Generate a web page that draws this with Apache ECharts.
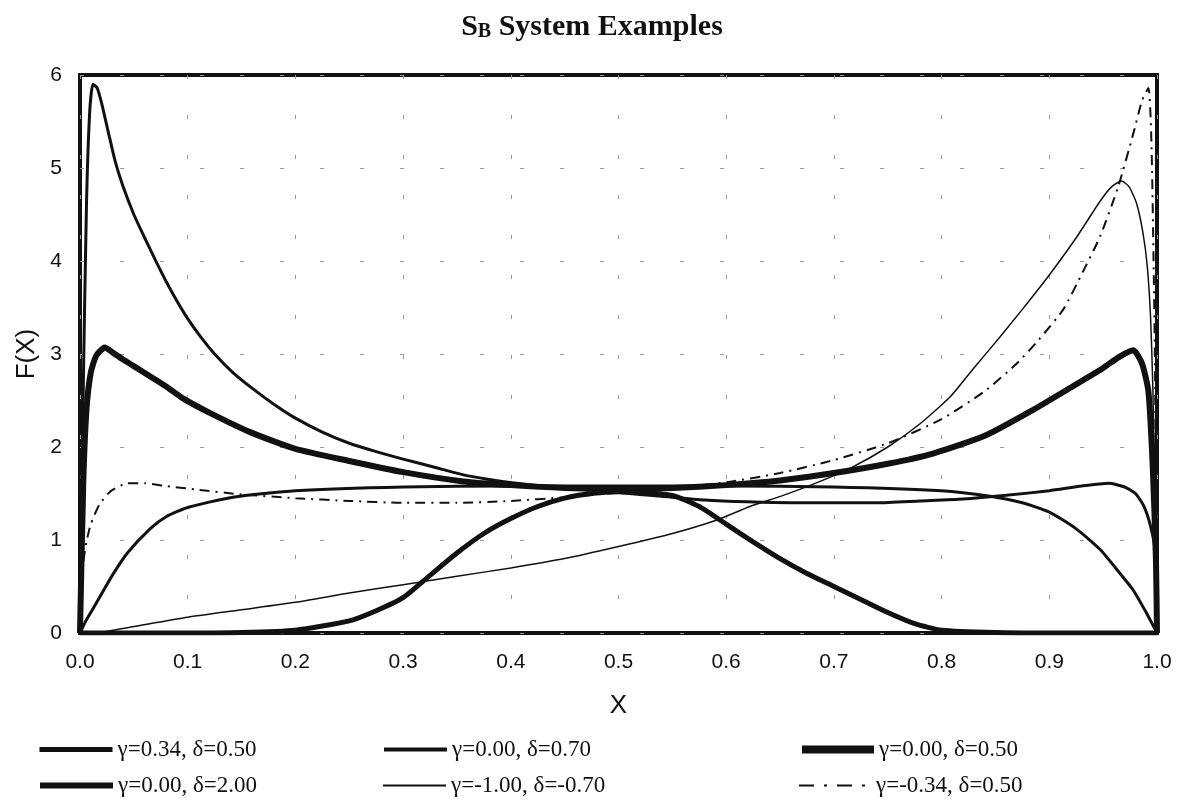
<!DOCTYPE html>
<html><head><meta charset="utf-8">
<script src="https://cdn.jsdelivr.net/npm/echarts@6/dist/echarts.min.js"></script>
<style>html,body{margin:0;padding:0;background:#fff}#chart{width:1184px;height:808px}</style>
</head><body><div id="chart"></div>
<script>
// Legend labels (series names)
const seriesNames = ['γ=0.34, δ=0.50', 'γ=0.00, δ=0.70', 'γ=0.00, δ=0.50', 'γ=0.00, δ=2.00', 'γ=-1.00, δ=-0.70', 'γ=-0.34, δ=0.50'];

// Curve values: [x, F(x)]
const curveG034D050 = [[0,0],[0.003,2.6],[0.006,4.6],[0.009,5.6],[0.012,5.9],[0.016,5.86],[0.02,5.7],[0.026,5.4],[0.0325,5.08],[0.04,4.8],[0.05,4.5],[0.06,4.25],[0.07,4.01],[0.08,3.78],[0.09,3.57],[0.1,3.38],[0.111,3.2],[0.125,3.0],[0.142,2.8],[0.16,2.63],[0.18,2.46],[0.2,2.31],[0.225,2.16],[0.25,2.04],[0.275,1.95],[0.3,1.87],[0.33,1.78],[0.356,1.70],[0.38,1.65],[0.405,1.61],[0.43,1.58],[0.46,1.55],[0.5,1.51],[0.54,1.47],[0.58,1.43],[0.62,1.41],[0.66,1.40],[0.7,1.40],[0.74,1.40],[0.78,1.42],[0.82,1.44],[0.86,1.48],[0.9,1.53],[0.93,1.58],[0.955,1.61],[0.97,1.57],[0.98,1.5],[0.988,1.36],[0.994,1.15],[0.998,0.9],[1,0]];
const curveG000D070 = [[0,0],[0.005,0.12],[0.01,0.22],[0.019,0.4],[0.03,0.62],[0.044,0.86],[0.065,1.12],[0.08,1.25],[0.1,1.35],[0.142,1.46],[0.2,1.53],[0.3,1.57],[0.4,1.58],[0.5,1.58],[0.6,1.58],[0.7,1.57],[0.8,1.53],[0.845,1.47],[0.875,1.4],[0.9,1.3],[0.925,1.12],[0.947,0.9],[0.965,0.65],[0.978,0.46],[0.99,0.22],[0.995,0.11],[1,0]];
const curveG000D050 = [[0,0],[0.003,1.6],[0.006,2.4],[0.01,2.8],[0.015,2.98],[0.023,3.07],[0.03,3.02],[0.04,2.94],[0.05,2.87],[0.065,2.76],[0.08,2.65],[0.096,2.52],[0.12,2.37],[0.158,2.16],[0.2,1.98],[0.25,1.85],[0.3,1.73],[0.356,1.63],[0.4,1.59],[0.45,1.56],[0.5,1.55],[0.55,1.56],[0.6,1.59],[0.65,1.64],[0.7,1.72],[0.75,1.82],[0.792,1.93],[0.84,2.12],[0.885,2.4],[0.92,2.64],[0.95,2.85],[0.965,2.97],[0.978,3.04],[0.986,2.9],[0.992,2.6],[0.996,1.8],[0.999,0.8],[1,0]];
const curveG000D200 = [[0,0],[0.1,0],[0.15,0.005],[0.2,0.03],[0.25,0.13],[0.275,0.24],[0.3,0.38],[0.325,0.62],[0.35,0.86],[0.375,1.07],[0.4,1.23],[0.425,1.36],[0.45,1.45],[0.475,1.5],[0.5,1.52],[0.525,1.51],[0.55,1.48],[0.575,1.36],[0.6,1.17],[0.625,0.98],[0.65,0.8],[0.675,0.64],[0.7,0.5],[0.725,0.36],[0.75,0.22],[0.775,0.1],[0.8,0.03],[0.85,0.005],[0.9,0],[1,0]];
const curveGm100Dm070 = [[0,0],[0.02,0.01],[0.05,0.07],[0.1,0.17],[0.15,0.25],[0.2,0.33],[0.25,0.43],[0.3,0.52],[0.35,0.61],[0.4,0.7],[0.45,0.8],[0.5,0.93],[0.55,1.07],[0.59,1.21],[0.622,1.36],[0.653,1.48],[0.685,1.62],[0.715,1.77],[0.75,2.0],[0.78,2.25],[0.808,2.54],[0.83,2.85],[0.854,3.18],[0.875,3.48],[0.9,3.85],[0.925,4.25],[0.947,4.64],[0.958,4.8],[0.967,4.86],[0.974,4.8],[0.981,4.62],[0.987,4.3],[0.991,3.94],[0.994,3.4],[0.996,2.7],[0.998,1.6],[1,0]];
const curveGm034D050 = [[0,0],[0.003,0.75],[0.006,0.98],[0.01,1.17],[0.018,1.38],[0.028,1.52],[0.044,1.61],[0.06,1.61],[0.08,1.58],[0.11,1.54],[0.15,1.49],[0.2,1.45],[0.25,1.42],[0.3,1.40],[0.35,1.40],[0.4,1.42],[0.45,1.46],[0.5,1.51],[0.55,1.56],[0.6,1.62],[0.65,1.72],[0.7,1.86],[0.75,2.04],[0.8,2.3],[0.84,2.6],[0.87,2.9],[0.89,3.15],[0.913,3.48],[0.931,3.88],[0.947,4.26],[0.964,4.8],[0.978,5.37],[0.986,5.72],[0.992,5.86],[0.995,5.2],[0.998,3.0],[1,0]];

const curves = [curveG034D050, curveG000D070, curveG000D050, curveG000D200, curveGm100Dm070, curveGm034D050];

const chart = echarts.init(document.getElementById('chart'), null, {renderer: 'canvas'});
const ink = '#111';
const lineWidths = [3, 3, 6, 5, 1.5, 2];
const lineTypes = ['solid', 'solid', 'solid', 'solid', 'solid', [10, 6, 2, 6]];
const legendWidths = [5, 4, 8, 6, 2, 2];
const legendTypes = ['solid', 'solid', 'solid', 'solid', 'solid', [15, 10, 3, 10]];
const legendPos = [[37, 738, 73], [382, 738, 63], [798, 738, 72], [37, 774, 73], [382, 774, 63], [798, 774, 72]];

const option = {
  animation: false,
  backgroundColor: '#fff',
  title: {
    left: 'center', top: 7,
    text: '{a|S}{b|B}{a| System Examples}',
    textStyle: {
      rich: {
        a: {fontFamily: 'Liberation Serif', fontWeight: 'bold', fontSize: 30, color: ink},
        b: {fontFamily: 'Liberation Serif', fontWeight: 'bold', fontSize: 20, color: ink, verticalAlign: 'bottom'}
      }
    }
  },
  legend: seriesNames.map((n, i) => ({
    left: legendPos[i][0], top: legendPos[i][1], itemWidth: legendPos[i][2], itemHeight: 28,
    padding: 0, itemGap: 0, selectedMode: false, data: [n],
    itemStyle: {opacity: 0},
    lineStyle: {width: legendWidths[i], type: legendTypes[i], color: ink},
    textStyle: {fontFamily: 'Liberation Serif', fontSize: 23, color: ink}
  })),
  grid: {left: 80, right: 27, top: 75, bottom: 175, show: true, borderColor: ink, borderWidth: 4, backgroundColor: 'transparent'},
  xAxis: {
    type: 'value', min: 0, max: 1, interval: 0.1,
    name: 'X', nameLocation: 'middle', nameGap: 60,
    nameTextStyle: {fontFamily: 'Liberation Sans', fontSize: 26, color: ink},
    axisLine: {show: false}, axisTick: {show: false},
    axisLabel: {formatter: v => v.toFixed(1), fontFamily: 'Liberation Sans', fontSize: 21, color: ink, margin: 19},
    splitLine: {show: true, lineStyle: {color: '#999', width: 1, type: [4, 36]}}
  },
  yAxis: {
    type: 'value', min: 0, max: 6, interval: 1,
    name: 'F(X)', nameLocation: 'middle', nameGap: 37, nameRotate: 90,
    nameTextStyle: {fontFamily: 'Liberation Sans', fontSize: 26, color: ink},
    axisLine: {show: false}, axisTick: {show: false},
    axisLabel: {fontFamily: 'Liberation Sans', fontSize: 21, color: ink, margin: 18},
    splitLine: {show: true, lineStyle: {color: '#999', width: 1, type: [4, 36]}}
  },
  series: curves.map((c, i) => ({
    name: seriesNames[i], type: 'line', data: c,
    symbol: 'none', showSymbol: false, smooth: 0.2,
    lineStyle: {color: ink, width: lineWidths[i], type: lineTypes[i]},
    itemStyle: {color: ink}
  }))
};
chart.setOption(option);
</script></body></html>
